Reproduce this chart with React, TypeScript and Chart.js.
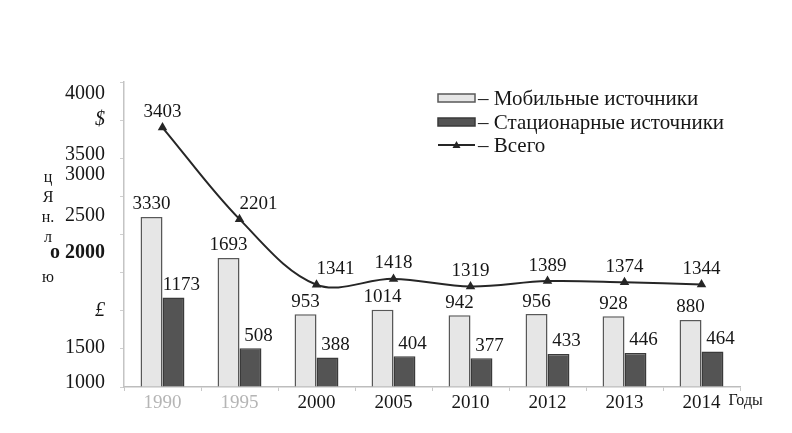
import React, { useEffect, useRef } from "react";
import { Chart, registerables } from "chart.js";

Chart.register(...registerables);

const categories = ["1990", "1995", "2000", "2005", "2010", "2012", "2013", "2014"];
const mobile = [3330, 1693, 953, 1014, 942, 956, 928, 880];
const stationary = [1173, 508, 388, 404, 377, 433, 446, 464];
const total = [3403, 2201, 1341, 1418, 1319, 1389, 1374, 1344];

// garbled y-axis labels as printed in the scan, with the scale value each sits at
const yLabelValues = [50, 520, 1000, 1760, 2250, 2780, 3040, 3500, 3850];
const yLabelTexts = ["1000", "1500", "£", "о 2000", "2500", "3000", "3500", "$", "4000"];
const yTitleLetters = ["ц", "Я", "н.", "л", "", "ю"];
const legendLabels = ["– Мобильные источники", "– Стационарные источники", "– Всего"];
const xUnitLabel = "Годы";
// the tallest bar is drawn broken (scale break) at this height
const MOBILE_BREAK = 2230;

const SERIF = "'Liberation Serif', 'Times New Roman', serif";
const LIGHT_FILL = "#e6e6e6";
const LIGHT_BORDER = "#585858";
const DARK_FILL = "#545454";
const DARK_BORDER = "#3a3a3a";
const LINE_COLOR = "#262626";
const TEXT = "#161616";

const overlayPlugin = {
  id: "overlay",
  afterDatasetsDraw(chart: any) {
    const ctx = chart.ctx;
    const area = chart.chartArea;
    ctx.save();
    ctx.fillStyle = TEXT;
    ctx.font = `19px ${SERIF}`;
    ctx.textBaseline = "bottom";
    const m0 = chart.getDatasetMeta(0);
    m0.data.forEach((el: any, i: number) => {
      ctx.textAlign = "center";
      ctx.fillText(String(mobile[i]), el.x, el.y - 3);
    });
    const m1 = chart.getDatasetMeta(1);
    m1.data.forEach((el: any, i: number) => {
      ctx.textAlign = "center";
      ctx.fillText(String(stationary[i]), el.x + 8, el.y - 3);
    });
    const m2 = chart.getDatasetMeta(2);
    m2.data.forEach((el: any, i: number) => {
      const prev = i > 0 ? m2.data[i - 1] : null;
      const steep = prev && el.y - prev.y > 40;
      ctx.textAlign = steep ? "left" : "center";
      ctx.fillText(String(total[i]), el.x, el.y - 6);
    });

    // legend
    const lx = area.right - 302;
    const rows = [area.top + 16, area.top + 40, area.top + 63];
    ctx.textAlign = "left";
    ctx.textBaseline = "middle";
    ctx.font = `21px ${SERIF}`;
    rows.forEach((ry, i) => {
      if (i === 0 || i === 1) {
        ctx.fillStyle = i === 0 ? LIGHT_FILL : DARK_FILL;
        ctx.strokeStyle = i === 0 ? LIGHT_BORDER : DARK_BORDER;
        ctx.lineWidth = 1.5;
        ctx.fillRect(lx, ry - 4, 37, 8);
        ctx.strokeRect(lx, ry - 4, 37, 8);
      } else {
        ctx.strokeStyle = LINE_COLOR;
        ctx.lineWidth = 2;
        ctx.beginPath();
        ctx.moveTo(lx, ry);
        ctx.lineTo(lx + 37, ry);
        ctx.stroke();
        ctx.fillStyle = LINE_COLOR;
        ctx.beginPath();
        ctx.moveTo(lx + 18.5, ry - 4);
        ctx.lineTo(lx + 22.5, ry + 3);
        ctx.lineTo(lx + 14.5, ry + 3);
        ctx.closePath();
        ctx.fill();
      }
      ctx.fillStyle = TEXT;
      ctx.fillText(legendLabels[i], lx + 40, ry + 1);
    });

    // stacked garbled axis-title letters
    const ys = chart.scales.y;
    ctx.font = `16px ${SERIF}`;
    ctx.textAlign = "center";
    const y0 = ys.getPixelForValue(2750);
    yTitleLetters.forEach((t, i) => {
      if (t) ctx.fillText(t, area.left - 76, y0 + i * 20);
    });

    // unit label on x axis
    const xs = chart.scales.x;
    ctx.font = `16px ${SERIF}`;
    ctx.textAlign = "left";
    ctx.fillText(xUnitLabel, xs.getPixelForValue(categories.length - 1) + 27, area.bottom + 14);
    ctx.restore();
  },
};

export default function App() {
  const ref = useRef<HTMLCanvasElement | null>(null);
  useEffect(() => {
    if (!ref.current) return;
    Chart.defaults.font.family = SERIF;
    const chart = new Chart(ref.current, {
      type: "bar",
      data: {
        labels: categories,
        datasets: [
          {
            type: "bar",
            label: legendLabels[0],
            data: mobile.map((v) => Math.min(v, MOBILE_BREAK)),
            backgroundColor: LIGHT_FILL,
            borderColor: LIGHT_BORDER,
            borderWidth: 1.5,
            barPercentage: 1,
            categoryPercentage: 0.57,
            yAxisID: "y",
            order: 2,
          },
          {
            type: "bar",
            label: legendLabels[1],
            data: stationary,
            backgroundColor: DARK_FILL,
            borderColor: DARK_BORDER,
            borderWidth: 1.5,
            barPercentage: 1,
            categoryPercentage: 0.57,
            yAxisID: "y",
            order: 2,
          },
          {
            type: "line",
            label: legendLabels[2],
            data: total,
            borderColor: LINE_COLOR,
            borderWidth: 2,
            tension: 0.35,
            pointStyle: "triangle",
            pointRadius: 3.5,
            pointBackgroundColor: LINE_COLOR,
            pointBorderColor: LINE_COLOR,
            yAxisID: "y",
            order: 1,
          } as any,
        ],
      },
      options: {
        animation: false,
        responsive: true,
        maintainAspectRatio: false,
        layout: { padding: { top: 82, right: 52, left: 0, bottom: 0 } },
        plugins: { legend: { display: false }, tooltip: { enabled: false } },
        scales: {
          x: {
            grid: { drawOnChartArea: false, drawTicks: true, tickLength: 4, color: "#c8c8c8", offset: true },
            border: { display: true, color: "#bdbdbd", width: 1.5 },
            ticks: {
              padding: 1,
              maxRotation: 0,
              autoSkip: false,
              font: { size: 19, family: SERIF },
              color: (c: any) => (c.index < 2 ? "#b5b5b5" : TEXT),
            },
            afterFit: (s: any) => {
              s.height = 46;
            },
          },
          y: {
            position: "left",
            min: 0,
            max: 4000,
            weight: 0,
            ticks: { stepSize: 500, display: false },
            grid: { drawOnChartArea: false, drawTicks: true, tickLength: 4, color: "#cfcfcf" },
            border: { display: true, color: "#c4c4c4", width: 1.5 },
            afterFit: (s: any) => {
              s.width = 6;
            },
          },
          yLabels: {
            type: "linear",
            position: "left",
            min: 0,
            max: 4000,
            weight: 1,
            grid: { display: false, drawTicks: false },
            border: { display: false },
            afterBuildTicks: (s: any) => {
              s.ticks = yLabelValues.map((v) => ({ value: v }));
            },
            ticks: {
              autoSkip: false,
              padding: 13,
              color: TEXT,
              callback: (_v: any, i: number) => yLabelTexts[i],
              font: (c: any) => {
                const lbl = c.tick ? yLabelTexts[c.index] : "";
                return {
                  family: SERIF,
                  size: 20,
                  weight: lbl === "о 2000" ? "bold" : "normal",
                  style: lbl === "$" || lbl === "£" ? "italic" : "normal",
                } as any;
              },
            },
            afterFit: (s: any) => {
              s.width = 118;
            },
          } as any,
        },
      },
      plugins: [overlayPlugin],
    });
    return () => chart.destroy();
  }, []);
  return (
    <div style={{ position: "absolute", left: 0, top: 0, width: 792, height: 433, background: "#fff" }}>
      <canvas ref={ref} />
    </div>
  );
}
